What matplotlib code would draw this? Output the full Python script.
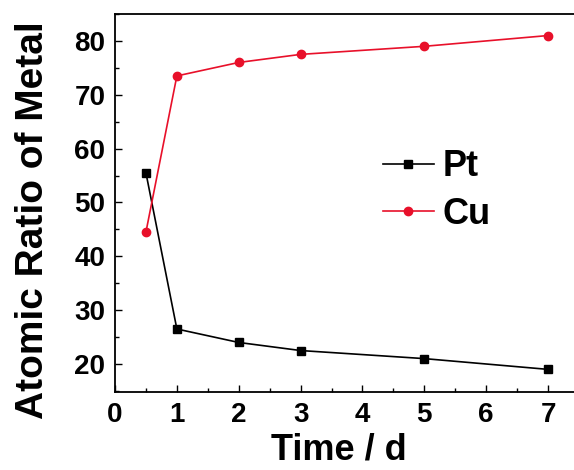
import matplotlib
matplotlib.use("Agg")
import matplotlib.pyplot as plt
from matplotlib.ticker import MultipleLocator

time_d = [0.5, 1, 2, 3, 5, 7]
pt = [55.5, 26.5, 24.0, 22.5, 21.0, 19.0]
cu = [44.5, 73.5, 76.0, 77.5, 79.0, 81.0]

plt.rcParams['font.family'] = ['Liberation Sans', 'DejaVu Sans']
plt.rcParams['font.weight'] = 'bold'

fig = plt.figure(figsize=(5.74, 4.70), dpi=100)
ax = fig.add_axes([115/574, 1-392/470, 464/574, (392-14)/470])

ax.plot(time_d, pt, color='black', marker='s', markersize=5.5, linewidth=1.2, label='Pt')
ax.plot(time_d, cu, color='#e8102a', marker='o', markersize=6, linewidth=1.2, label='Cu')

ax.set_xlim(0, 7.5)
ax.set_ylim(14.8, 85)
ax.xaxis.set_major_locator(MultipleLocator(1))
ax.xaxis.set_minor_locator(MultipleLocator(0.5))
ax.yaxis.set_minor_locator(MultipleLocator(5))
ax.set_yticks([20, 30, 40, 50, 60, 70, 80])
ax.tick_params(which='major', direction='in', length=5, width=1, labelsize=20, pad=7)
ax.tick_params(which='minor', direction='in', length=3, width=1)
ax.tick_params(top=False, right=False, which='both')
for lab in ax.get_xticklabels() + ax.get_yticklabels():
    lab.set_fontweight('bold')
for s in ax.spines.values():
    s.set_linewidth(1.3)

ax.set_xlabel('Time / d', fontsize=26, fontweight='bold')
ax.set_ylabel('Atomic Ratio of Metal', fontsize=28, fontweight='bold')
ax.xaxis.set_label_coords(0.483, -0.106)
ax.yaxis.set_label_coords(-0.139, 0.455)

leg = ax.legend(loc='upper left', bbox_to_anchor=(0.578, 0.642), frameon=False,
                fontsize=26, handlelength=1.4, labelspacing=0.35, handletextpad=0.25,
                borderpad=0, borderaxespad=0)
for t in leg.get_texts():
    t.set_fontweight('bold')

fig.savefig('out.png', dpi=100)
